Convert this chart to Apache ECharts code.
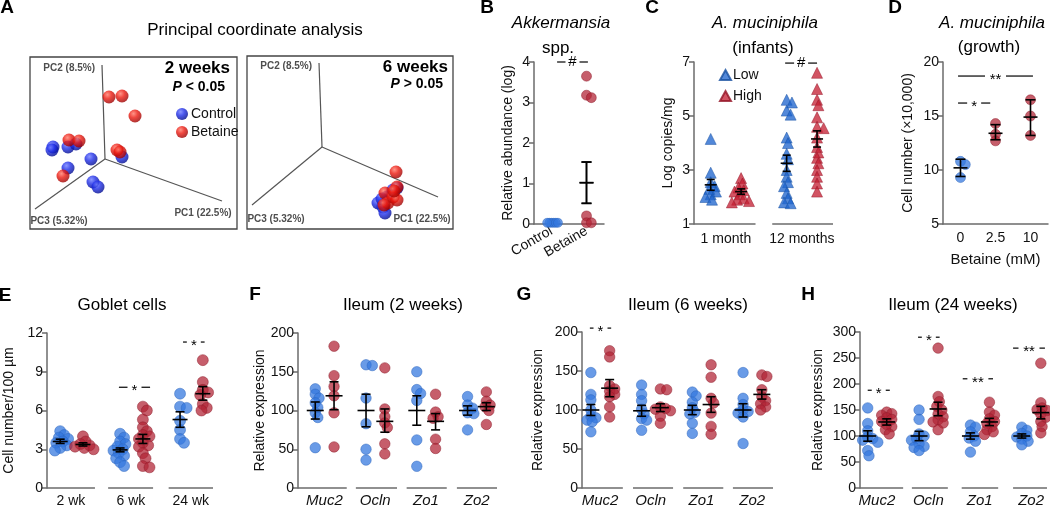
<!DOCTYPE html>
<html>
<head>
<meta charset="utf-8">
<script src="https://cdn.jsdelivr.net/npm/echarts@6/dist/echarts.min.js"></script>
<style>
  html, body { margin: 0; padding: 0; background: #fff; }
  #chart { width: 1050px; height: 508px; }
</style>
</head>
<body>
<div id="chart"></div>
<script>
// ---------- data ----------
// A: PCoA, 3D plot projected to the page (x right, y up, origin = PC origin)
const pcNames = ['PC1 (22.5%)', 'PC2 (8.5%)', 'PC3 (5.32%)'];
const pcEnds2wk = [[117, -42], [-3, 94], [-70, -50]];
const pcEnds6wk = [[116, -50], [-3, 84], [-70, -58]];
const pc2wkControl = [[-52, 12], [-53, 9], [-37, 12], [-29, 15], [-14, 0], [-37, -9], [-12, -23], [-7, -28], [17, 2]];
const pc2wkBetaine = [[4, 62], [17, 63], [30, 43], [-36, 19], [-26, 18], [12, 9], [15, 7], [-42, -17]];
const pc6wkControl = [[71, -43], [65, -50], [56, -56], [61, -60], [63, -66], [75, -41], [60, -52]];
const pc6wkBetaine = [[74, -25], [75, -40], [63, -46], [66, -56], [71, -50], [75, -53], [62, -58], [72, -44]];

// B: Akkermansia spp.
const akkCats = ['Control', 'Betaine'];
const akkControl = [[0.03, 0.03, 0.03, 0.03, 0.03, 0.03], []];
const akkBetaine = [[], [3.65, 3.18, 3.12, 0.2, 0.03, 0.03]];
const akkMean = [null, 1.02];
const akkLo = [null, 0.51];
const akkHi = [null, 1.53];
const akkSig = ['#'];

// C: A. muciniphila (infants)
const infantCats = ['1 month', '12 months'];
const infantLow = [[4.15, 2.9, 2.55, 2.4, 2.3, 2.2, 2.1, 2.0, 1.9],
  [5.6, 5.5, 5.2, 5.05, 4.2, 4.0, 3.6, 3.4, 3.0, 2.75, 2.55, 2.4, 2.15, 1.95, 1.8, 1.77]];
const infantHigh = [[2.7, 2.5, 2.35, 2.25, 2.2, 2.1, 1.95, 1.9, 1.85, 1.8],
  [6.6, 6.0, 5.6, 5.4, 4.95, 4.6, 4.55, 4.2, 3.85, 3.65, 3.45, 3.25, 3.0, 2.75, 2.5, 2.2]];
const infantLowMean = [2.45, 3.25], infantLowLo = [2.25, 2.95], infantLowHi = [2.65, 3.55];
const infantHighMean = [2.2, 4.15], infantHighLo = [2.1, 3.85], infantHighHi = [2.3, 4.45];
const infantSig = ['#'];

// D: A. muciniphila (growth)
const growthCats = ['0', '2.5', '10'];
const growthCells = [[10.8, 10.5, 9.3], [14.3, 13.3, 12.7], [16.5, 15.0, 13.2]];
const growthMean = [10.2, 13.4, 14.9], growthLo = [9.4, 12.8, 13.2], growthHi = [11.0, 14.2, 16.5];
const growthSig = ['**', '*'];

// E: goblet cells
const gobletCats = ['2 wk', '6 wk', '24 wk'];
const gobletControl = [[4.4, 4.1, 3.9, 3.8, 3.6, 3.5, 3.3, 3.1, 2.9],
  [4.2, 3.9, 3.6, 3.4, 3.2, 3.0, 2.9, 2.7, 2.5, 2.3, 2.0, 1.7],
  [7.3, 6.3, 6.2, 5.2, 4.5, 3.8, 3.5]];
const gobletBetaine = [[4.0, 3.6, 3.4, 3.3, 3.2, 3.1, 3.0],
  [6.3, 6.0, 5.3, 4.7, 4.4, 4.1, 4.0, 3.8, 3.5, 3.3, 3.2, 2.7, 2.3, 1.7, 1.6],
  [9.9, 8.2, 7.6, 7.4, 7.2, 6.5, 6.2, 6.0]];
const gobletCtrlMean = [3.6, 2.95, 5.3], gobletCtrlLo = [3.45, 2.8, 4.7], gobletCtrlHi = [3.78, 3.1, 5.9];
const gobletBetMean = [3.37, 3.8, 7.3], gobletBetLo = [3.25, 3.45, 6.8], gobletBetHi = [3.5, 4.15, 7.85];
const gobletSig = ['*', '*'];

// F-H: ileum relative expression
const geneCats = ['Muc2', 'Ocln', 'Zo1', 'Zo2'];
const ileum2Control = [[128, 121, 116, 110, 104, 97, 91, 52], [159, 158, 116, 83, 50, 36],
  [150, 127, 122, 113, 62, 28], [118, 107, 103, 97, 96, 75]];
const ileum2Betaine = [[183, 145, 131, 119, 97, 53], [155, 102, 92, 84, 78, 57, 44],
  [121, 98, 92, 90, 63, 51], [124, 112, 107, 105, 100, 82]];
const ileum2CtrlMean = [100, 100, 100, 100], ileum2CtrlLo = [89, 79, 81, 94], ileum2CtrlHi = [111, 121, 119, 106];
const ileum2BetMean = [119, 86, 86, 105], ileum2BetLo = [101, 72, 75, 100], ileum2BetHi = [137, 102, 96, 110];

const ileum6Control = [[148, 120, 113, 100, 92, 90, 87, 85, 72], [132, 120, 112, 101, 95, 89, 87, 74],
  [123, 118, 110, 103, 97, 95, 83, 70], [148, 115, 107, 100, 98, 96, 91, 57]];
const ileum6Betaine = [[176, 168, 131, 127, 124, 120, 117, 104, 91], [127, 126, 104, 102, 101, 99, 92, 83],
  [158, 142, 115, 109, 96, 79, 69], [145, 143, 126, 117, 112, 108, 104, 100]];
const ileum6CtrlMean = [100, 99, 100, 100], ileum6CtrlLo = [93, 92, 94, 91], ileum6CtrlHi = [107, 106, 106, 108];
const ileum6BetMean = [128, 103, 107, 120], ileum6BetLo = [117, 98, 97, 114], ileum6BetHi = [139, 108, 117, 126];
const ileum6Sig = ['*'];

const ileum24Control = [[154, 124, 110, 98, 95, 92, 88, 72, 62], [150, 132, 104, 100, 95, 92, 85, 80, 78, 72],
  [121, 117, 108, 100, 96, 90, 69], [117, 111, 105, 100, 98, 94, 90, 83]];
const ileum24Betaine = [[146, 143, 140, 135, 132, 128, 122, 118, 112, 104],
  [269, 176, 166, 157, 150, 142, 137, 131, 127, 125, 112],
  [165, 146, 140, 133, 128, 124, 118, 112, 108, 103], [240, 164, 154, 151, 149, 142, 136, 128, 118, 106]];
const ileum24CtrlMean = [100, 100, 100, 100], ileum24CtrlLo = [90, 91, 94, 96], ileum24CtrlHi = [110, 109, 106, 104];
const ileum24BetMean = [127, 152, 127, 145], ileum24BetLo = [121, 139, 120, 133], ileum24BetHi = [133, 165, 134, 157];
const ileum24Sig = ['*', '*', '**', '**'];

// ---------- style ----------
const FONT = 'Liberation Sans, Arial, Helvetica, sans-serif';
const BLUE = 'rgba(52,120,222,0.92)';
const RED = 'rgba(178,36,54,0.92)';
const BLUE_EDGE = '#2a62bb';
const RED_EDGE = '#8e1c2b';
const AXIS_GRAY = '#6b6b6b';

const chart = echarts.init(document.getElementById('chart'));

const grid = [], xAxis = [], yAxis = [], series = [], graphic = [];

// spread points of one group sideways so they do not pile up (beeswarm)
function swarm(values, center, p, size, sep) {
  const pxX = p.width / (p.xMax - p.xMin);
  const pxY = p.height / (p.yMax - p.yMin);
  const step = size * 0.12;
  const placed = [];
  const out = [];
  values.forEach(v => {
    const py = v * pxY;
    let dx = 0;
    for (let k = 0; k < 120; k++) {
      const off = k === 0 ? 0 : (k % 2 ? 1 : -1) * Math.ceil(k / 2) * step;
      if (placed.every(q => Math.hypot(q[0] - off, q[1] - py) >= size * sep)) { dx = off; break; }
    }
    placed.push([dx, py]);
    out.push([center + dx / pxX, v]);
  });
  return out;
}

function errRender(capW, meanW) {
  return function (params, api) {
    const x = api.value(0);
    const m = api.coord([x, api.value(1)]);
    const lo = api.coord([x, api.value(2)]);
    const hi = api.coord([x, api.value(3)]);
    const st = { stroke: '#000', lineWidth: 1.6 };
    return {
      type: 'group', children: [
        { type: 'line', shape: { x1: m[0], y1: lo[1], x2: m[0], y2: hi[1] }, style: st },
        { type: 'line', shape: { x1: m[0] - capW / 2, y1: lo[1], x2: m[0] + capW / 2, y2: lo[1] }, style: st },
        { type: 'line', shape: { x1: m[0] - capW / 2, y1: hi[1], x2: m[0] + capW / 2, y2: hi[1] }, style: st },
        { type: 'line', shape: { x1: m[0] - meanW / 2, y1: m[1], x2: m[0] + meanW / 2, y2: m[1] }, style: st }
      ]
    };
  };
}

function sigRender(labels) {
  return function (params, api) {
    const a = api.coord([api.value(0), api.value(2)]);
    const b = api.coord([api.value(1), api.value(2)]);
    const txt = labels[params.dataIndex];
    const cx = (a[0] + b[0]) / 2;
    const half = txt.length * 3.5 + 3.5;
    const st = { stroke: '#000', lineWidth: 1.2 };
    const dy = txt.indexOf('*') >= 0 ? 4 : 0;
    return {
      type: 'group', children: [
        { type: 'line', shape: { x1: a[0], y1: a[1], x2: cx - half, y2: a[1] }, style: st },
        { type: 'line', shape: { x1: cx + half, y1: a[1], x2: b[0], y2: a[1] }, style: st },
        { type: 'text', x: cx, y: a[1] + dy, style: { text: txt, font: '15px ' + FONT, fill: '#000', textAlign: 'center', textVerticalAlign: 'middle' } }
      ]
    };
  };
}

function segRender(params, api) {
  const a = api.coord([api.value(0), api.value(2)]);
  const b = api.coord([api.value(1), api.value(2)]);
  return { type: 'line', shape: { x1: a[0], y1: a[1], x2: b[0], y2: b[1] }, style: { stroke: AXIS_GRAY, lineWidth: 1.5 } };
}

function vecRender(params, api) {
  const a = api.coord([api.value(0), api.value(1)]);
  const b = api.coord([api.value(2), api.value(3)]);
  return { type: 'line', shape: { x1: a[0], y1: a[1], x2: b[0], y2: b[1] }, style: { stroke: '#555', lineWidth: 1.2 } };
}

// one dot-plot panel
function dotPanel(p, conds, sig) {
  const gi = grid.length;
  grid.push({ left: p.left, top: p.top, width: p.width, height: p.height });
  xAxis.push({
    gridIndex: gi, type: 'value', min: p.xMin, max: p.xMax,
    splitLine: { show: false },
    axisLine: { show: !p.segments, onZero: false, lineStyle: { color: AXIS_GRAY, width: 1.5 } },
    axisTick: { show: false },
    axisLabel: {
      customValues: p.cats.map((c, i) => i),
      formatter: v => p.cats[Math.round(v)],
      fontSize: p.catSize || 14, color: '#111', fontFamily: FONT,
      fontStyle: p.italic ? 'italic' : 'normal',
      margin: p.catMargin || 6, rotate: p.rotate || 0
    },
    name: p.xName || '', nameLocation: 'middle', nameGap: p.xNameGap || 0,
    nameTextStyle: { fontSize: 15, color: '#111', fontFamily: FONT }
  });
  yAxis.push({
    gridIndex: gi, type: 'value', min: p.yMin, max: p.yMax, interval: p.yInterval,
    splitLine: { show: false },
    axisLine: { show: true, onZero: false, lineStyle: { color: AXIS_GRAY, width: 1.5 } },
    axisTick: { show: true, length: 5, lineStyle: { color: AXIS_GRAY, width: 1.5 } },
    axisLabel: { fontSize: 14, color: '#111', fontFamily: FONT, margin: 4 },
    name: p.yName, nameLocation: 'middle', nameGap: p.yNameGap, nameRotate: 90,
    nameTextStyle: { fontSize: 14, color: '#111', fontFamily: FONT }
  });
  if (p.segments) {
    series.push({
      type: 'custom', xAxisIndex: gi, yAxisIndex: gi, renderItem: segRender, silent: true,
      data: p.segments.map(s => [s[0], s[1], p.yMin]), z: 1
    });
  }
  conds.forEach(c => {
    let pts = [];
    c.values.forEach((vals, g) => {
      pts = pts.concat(swarm(vals, g + c.offset, p, c.size, c.sep));
    });
    series.push({
      type: 'scatter', name: c.name, xAxisIndex: gi, yAxisIndex: gi,
      symbol: c.symbol || 'circle', symbolSize: c.size, data: pts, z: 2,
      itemStyle: { color: c.color, borderColor: c.edge, borderWidth: 0.6 }
    });
    const bars = [];
    c.mean.forEach((m, g) => { if (m !== null) bars.push([g + c.offset, m, c.lo[g], c.hi[g]]); });
    series.push({
      type: 'custom', xAxisIndex: gi, yAxisIndex: gi, renderItem: errRender(c.capW, c.meanW),
      data: bars, z: 3, silent: true
    });
  });
  if (sig) {
    series.push({
      type: 'custom', xAxisIndex: gi, yAxisIndex: gi, renderItem: sigRender(sig.labels),
      data: sig.pos, z: 4, silent: true
    });
  }
}

// one PCoA box
function pcoaPanel(p, ends, control, betaine, labelPos) {
  const gi = grid.length;
  grid.push({ left: p.left, top: p.top, width: p.width, height: p.height, show: true, borderColor: '#444', borderWidth: 1.3 });
  xAxis.push({ gridIndex: gi, type: 'value', min: p.xMin, max: p.xMax, show: false });
  yAxis.push({ gridIndex: gi, type: 'value', min: p.yMin, max: p.yMax, show: false });
  series.push({
    type: 'custom', xAxisIndex: gi, yAxisIndex: gi, renderItem: vecRender, silent: true,
    data: ends.map(e => [0, 0, e[0], e[1]]), z: 1
  });
  series.push({
    type: 'scatter', xAxisIndex: gi, yAxisIndex: gi, symbolSize: 0, silent: true,
    data: ends.map((e, i) => ({
      value: e,
      label: { show: true, formatter: pcNames[i], position: labelPos[i].pos, offset: labelPos[i].off,
        fontSize: 10, fontWeight: 'bold', color: '#222', fontFamily: FONT }
    }))
  });
  const sphere = (c0, c1, c2) => new echarts.graphic.RadialGradient(0.38, 0.32, 0.7,
    [{ offset: 0, color: c0 }, { offset: 0.45, color: c1 }, { offset: 1, color: c2 }]);
  series.push({
    type: 'scatter', name: 'Control', xAxisIndex: gi, yAxisIndex: gi, symbolSize: 13, data: control, z: 2,
    itemStyle: { color: sphere('#6f7dff', '#1f2ee8', '#000a8c') }
  });
  series.push({
    type: 'scatter', name: 'Betaine', xAxisIndex: gi, yAxisIndex: gi, symbolSize: 13, data: betaine, z: 2,
    itemStyle: { color: sphere('#ff7a6a', '#ec1a10', '#980000') }
  });
}

// ---------- panels ----------
pcoaPanel({ left: 30, top: 57, width: 207, height: 172, xMin: -75, xMax: 132, yMin: -70, yMax: 102 },
  pcEnds2wk, pc2wkControl, pc2wkBetaine,
  [{ pos: 'bottom', off: [-19, 2] }, { pos: 'left', off: [-2, 3] }, { pos: 'bottom', off: [24, 2] }]);
pcoaPanel({ left: 247, top: 56, width: 206, height: 173, xMin: -75, xMax: 131, yMin: -82, yMax: 91 },
  pcEnds6wk, pc6wkControl, pc6wkBetaine,
  [{ pos: 'bottom', off: [-16, 12] }, { pos: 'left', off: [-2, 3] }, { pos: 'bottom', off: [24, 4] }]);

dotPanel({ left: 534, top: 62, width: 70, height: 162, xMin: -0.5, xMax: 1.5, yMin: 0, yMax: 4, yInterval: 1,
  cats: akkCats, rotate: 30, catMargin: 6, yName: 'Relative abundance (log)', yNameGap: 19 },
  [{ name: 'Akk Control', values: akkControl, mean: akkMean, lo: akkLo, hi: akkHi, offset: 0, size: 9, sep: 0.22,
     color: BLUE, edge: BLUE_EDGE, capW: 10, meanW: 14 },
   { name: 'Akk Betaine', values: akkBetaine, mean: akkMean, lo: akkLo, hi: akkHi, offset: 0, size: 10, sep: 0.45,
     color: RED, edge: RED_EDGE, capW: 10, meanW: 14 }],
  { labels: akkSig, pos: [[0.16, 1.04, 4.0]] });

dotPanel({ left: 694, top: 62, width: 139, height: 162, xMin: -0.42, xMax: 1.41, yMin: 1, yMax: 7, yInterval: 2,
  cats: infantCats, catMargin: 8, yName: 'Log copies/mg', yNameGap: 19,
  segments: [[-0.42, 0.39], [0.61, 1.41]] },
  [{ name: 'Low', values: infantLow, mean: infantLowMean, lo: infantLowLo, hi: infantLowHi, offset: -0.2,
     symbol: 'triangle', size: 11, sep: 0.5, color: 'rgba(28,98,205,0.95)', edge: '#164f9f', capW: 8, meanW: 12 },
   { name: 'High', values: infantHigh, mean: infantHighMean, lo: infantHighLo, hi: infantHighHi, offset: 0.2,
     symbol: 'triangle', size: 11, sep: 0.5, color: 'rgba(196,30,50,0.95)', edge: '#941527', capW: 8, meanW: 12 }],
  { labels: infantSig, pos: [[0.78, 1.2, 6.96]] });

dotPanel({ left: 943, top: 62, width: 105, height: 162, xMin: -0.5, xMax: 2.5, yMin: 5, yMax: 20, yInterval: 5,
  cats: growthCats, catMargin: 7, yName: 'Cell number (\u00d710,000)', yNameGap: 28,
  xName: 'Betaine (mM)', xNameGap: 28 },
  [{ name: 'Growth 0', values: [growthCells[0], [], []], mean: [growthMean[0], null, null], lo: growthLo, hi: growthHi,
     offset: 0, size: 10, sep: 0.5, color: BLUE, edge: BLUE_EDGE, capW: 10, meanW: 14 },
   { name: 'Growth betaine', values: [[], growthCells[1], growthCells[2]], mean: [null, growthMean[1], growthMean[2]],
     lo: growthLo, hi: growthHi, offset: 0, size: 10, sep: 0.5, color: RED, edge: RED_EDGE, capW: 10, meanW: 14 }],
  { labels: growthSig, pos: [[-0.07, 2.07, 18.7], [-0.07, 0.85, 16.2]] });

dotPanel({ left: 47, top: 333, width: 166, height: 156, xMin: -0.4, xMax: 2.37, yMin: 0, yMax: 12, yInterval: 3,
  cats: gobletCats, catMargin: 6, yName: 'Cell number/100 \u00b5m', yNameGap: 31,
  segments: [[-0.4, 0.4], [0.62, 1.37], [1.63, 2.37]] },
  [{ name: 'E Control', values: gobletControl, mean: gobletCtrlMean, lo: gobletCtrlLo, hi: gobletCtrlHi, offset: -0.18,
     size: 11, sep: 0.5, color: BLUE, edge: BLUE_EDGE, capW: 9, meanW: 15 },
   { name: 'E Betaine', values: gobletBetaine, mean: gobletBetMean, lo: gobletBetLo, hi: gobletBetHi, offset: 0.2,
     size: 11, sep: 0.5, color: RED, edge: RED_EDGE, capW: 9, meanW: 15 }],
  { labels: gobletSig, pos: [[0.8, 1.32, 7.8], [1.87, 2.23, 11.3]] });

function ileumPanel(p, ctrl, bet, cm, cl, ch, bm, bl, bh, sig) {
  dotPanel(Object.assign({ yMin: 0, cats: geneCats, italic: true, catSize: 15, catMargin: 5, yName: 'Relative expression' }, p),
    [{ name: 'Ctrl ' + p.left, values: ctrl, mean: cm, lo: cl, hi: ch, offset: -0.18, size: 10.5, sep: 0.5,
       color: BLUE, edge: BLUE_EDGE, capW: 9, meanW: 17 },
     { name: 'Bet ' + p.left, values: bet, mean: bm, lo: bl, hi: bh, offset: 0.19, size: 10.5, sep: 0.5,
       color: RED, edge: RED_EDGE, capW: 9, meanW: 17 }], sig);
}

ileumPanel({ left: 298, top: 333, width: 199, height: 156, xMin: -0.52, xMax: 3.4, yMax: 200, yInterval: 50, yNameGap: 28,
  segments: [[-0.52, 0.44], [0.62, 1.43], [1.62, 2.41], [2.61, 3.4]] },
  ileum2Control, ileum2Betaine, ileum2CtrlMean, ileum2CtrlLo, ileum2CtrlHi, ileum2BetMean, ileum2BetLo, ileum2BetHi, null);

ileumPanel({ left: 582, top: 332, width: 191, height: 156, xMin: -0.355, xMax: 3.41, yMax: 200, yInterval: 50, yNameGap: 37,
  segments: [[-0.355, 0.45], [0.65, 1.44], [1.64, 2.43], [2.62, 3.41]] },
  ileum6Control, ileum6Betaine, ileum6CtrlMean, ileum6CtrlLo, ileum6CtrlHi, ileum6BetMean, ileum6BetLo, ileum6BetHi,
  { labels: ileum6Sig, pos: [[-0.2, 0.22, 205]] });

ileumPanel({ left: 860, top: 332, width: 188, height: 156, xMin: -0.33, xMax: 3.33, yMax: 300, yInterval: 50, yNameGap: 35,
  segments: [[-0.33, 0.51], [0.68, 1.38], [1.65, 2.36], [2.65, 3.31]] },
  ileum24Control, ileum24Betaine, ileum24CtrlMean, ileum24CtrlLo, ileum24CtrlHi, ileum24BetMean, ileum24BetLo, ileum24BetHi,
  { labels: ileum24Sig, pos: [[-0.18, 0.25, 188], [0.8, 1.22, 290], [1.67, 2.26, 210], [2.65, 3.27, 269]] });

// ---------- text ----------
function txt(x, y, text, font, align, rich) {
  graphic.push({ type: 'text', x: x, y: y, silent: true,
    style: { text: text, font: font, fill: '#000', textAlign: align || 'center', textVerticalAlign: 'middle', rich: rich } });
}
const LETTER = 'bold 19px ' + FONT;
const TITLE = '17px ' + FONT;
const ITAL = 'italic 17px ' + FONT;
txt(7, 8, 'A', LETTER); txt(487, 8, 'B', LETTER); txt(652, 8, 'C', LETTER); txt(895, 8, 'D', LETTER);
txt(5, 296, 'E', LETTER); txt(255, 295, 'F', LETTER); txt(524, 295, 'G', LETTER); txt(808, 295, 'H', LETTER);
txt(255, 30, 'Principal coordinate analysis', TITLE);
txt(561, 23, 'Akkermansia', ITAL); txt(558, 48, 'spp.', TITLE);
txt(765, 23, 'A. muciniphila', ITAL); txt(763, 48, '(infants)', TITLE);
txt(992, 23, 'A. muciniphila', ITAL); txt(989, 47, '(growth)', TITLE);
txt(122, 305, 'Goblet cells', TITLE);
txt(403, 305, 'Ileum (2 weeks)', TITLE);
txt(688, 305, 'Ileum (6 weeks)', TITLE);
txt(953, 305, 'Ileum (24 weeks)', TITLE);
txt(230, 68, '2 weeks', 'bold 17px ' + FONT, 'right');
txt(225, 87, '{i|P} < 0.05', 'bold 14px ' + FONT, 'right', { i: { fontStyle: 'italic', fontWeight: 'bold', fontSize: 14, fontFamily: FONT } });
txt(448, 67, '6 weeks', 'bold 17px ' + FONT, 'right');
txt(443, 84, '{i|P} > 0.05', 'bold 14px ' + FONT, 'right', { i: { fontStyle: 'italic', fontWeight: 'bold', fontSize: 14, fontFamily: FONT } });

chart.setOption({
  animation: false,
  textStyle: { fontFamily: FONT },
  legend: [
    { data: ['Control', 'Betaine'], left: 171, top: 102, orient: 'vertical', icon: 'circle', itemWidth: 12, itemHeight: 12,
      itemGap: 4, selectedMode: false, textStyle: { fontSize: 14, color: '#111', fontFamily: FONT, padding: [0, 0, 0, -2] } },
    { data: ['Low', 'High'], left: 714, top: 63, orient: 'vertical', icon: 'triangle', itemWidth: 11, itemHeight: 10,
      itemGap: 7, selectedMode: false, textStyle: { fontSize: 14, color: '#111', fontFamily: FONT, padding: [0, 0, 0, -3] } }
  ],
  grid: grid,
  xAxis: xAxis,
  yAxis: yAxis,
  series: series,
  graphic: graphic
});
</script>
</body>
</html>
